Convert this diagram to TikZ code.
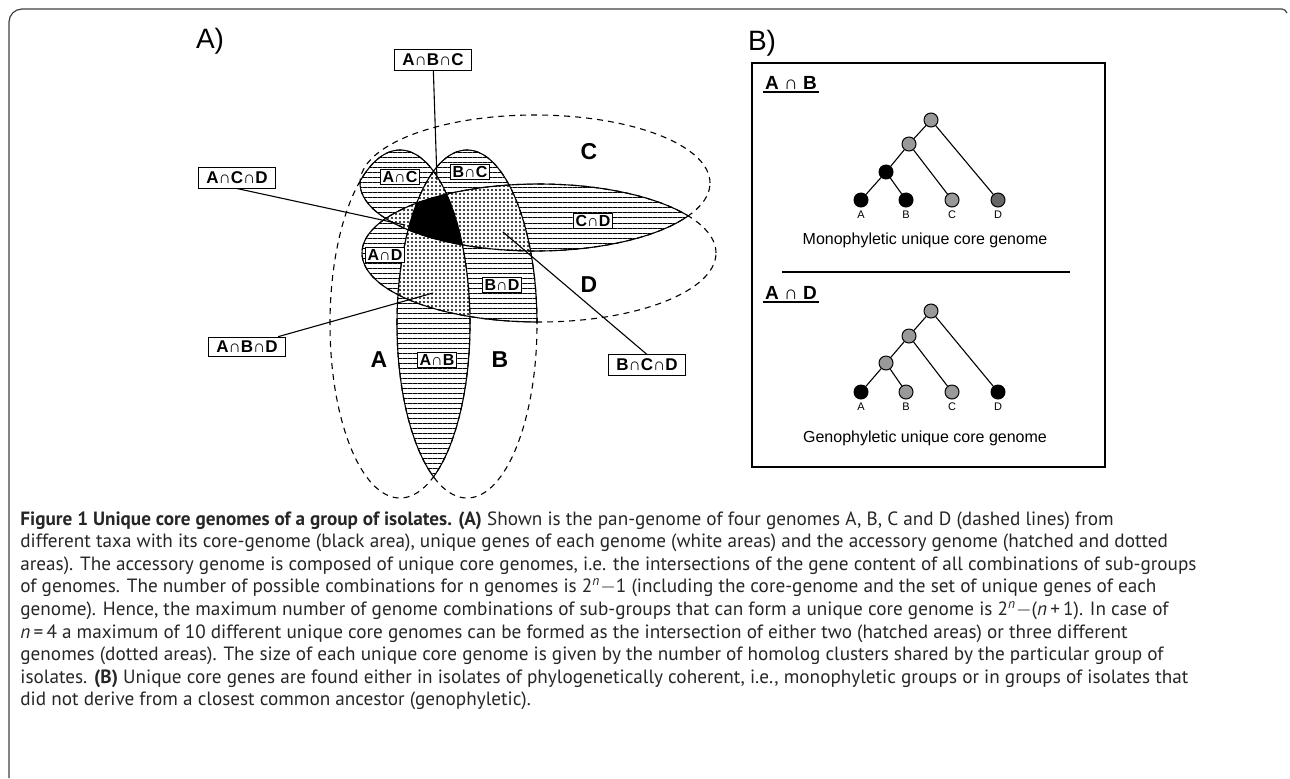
\documentclass[tikz,border=0pt]{standalone}
\usepackage{fontspec}
\setmainfont{Liberation Sans}
\newfontfamily\capfont{PT Sans}
\usetikzlibrary{positioning, patterns.meta}

% the four genomes as ellipses (units are pixels of the target)
\def\setA{(400,324) ellipse [x radius=35pt, y radius=87pt]}
\def\setB{(467,324) ellipse [x radius=35pt, y radius=87pt]}
\def\setC{(535,183) ellipse [x radius=87.5pt, y radius=34pt]}
\def\setD{(539,253) ellipse [x radius=88.5pt, y radius=34.5pt]}

\tikzset{
x=0.5pt, y=-0.5pt, % one unit is one pixel, y going down
hatch/.style={pattern={Lines[angle=0, distance=2.5pt, line width=0.5pt]}}, % two genomes
dotty/.style={pattern={Dots[distance=2pt, radius=0.55pt]}}, % three genomes
outline/.style={line width=0.55pt},
gapline/.style={outline, dash pattern=on 3pt off 2.5pt},
setlbl/.style={font=\bfseries\fontsize{11.5}{13}\selectfont},
boxlbl/.style={draw, fill=white, line width=0.5pt, inner xsep=4pt, inner ysep=2pt, font=\bfseries\fontsize{8.5}{9}\selectfont},
inlbl/.style={draw, fill=white, line width=0.45pt, inner xsep=1.2pt, inner ysep=0.8pt, font=\bfseries\fontsize{8}{8.5}\selectfont},
panel/.style={font=\fontsize{14}{16}\selectfont},
taxon/.style={circle, draw, line width=0.5pt, minimum size=7pt, inner sep=0pt},
taxlbl/.style={inner sep=0.5pt, font=\fontsize{5.5}{6}\selectfont},
branch/.style={line width=0.55pt},
grouphdr/.style={inner sep=1pt, font=\bfseries\fontsize{9.5}{11}\selectfont},
treetitle/.style={font=\fontsize{8}{9}\selectfont},
capline/.style={anchor=base west, inner sep=0pt, text=black!85, font=\capfont\fontsize{9.6}{11}\selectfont},
}

\begin{document}
\begin{tikzpicture}
\useasboundingbox (0,0) rectangle (1290,778);

% frame
\draw[line width=0.6pt, black!75] (9,778) -- (9,22) arc[start angle=180, end angle=90, radius=6.5pt] -- (1282,9) to[out=0, in=120] (1287,13);

\node[panel] (pa) at (210,41) {A)};
\node[panel] (pb) at (762,43) {B)};

% pairs
\begin{scope} \clip \setA; \fill[hatch] \setC; \end{scope}
\begin{scope} \clip \setB; \fill[hatch] \setC; \end{scope}
\begin{scope} \clip \setC; \fill[hatch] \setD; \end{scope}
\begin{scope} \clip \setA; \fill[hatch] \setD; \end{scope}
\begin{scope} \clip \setB; \fill[hatch] \setD; \end{scope}
\begin{scope} \clip \setA; \fill[hatch] \setB; \end{scope}

% triples
\begin{scope} \clip \setA; \clip \setB; \fill[white] \setC; \fill[dotty] \setC; \end{scope}
\begin{scope} \clip \setA; \clip \setC; \fill[white] \setD; \fill[dotty] \setD; \end{scope}
\begin{scope} \clip \setB; \clip \setC; \fill[white] \setD; \fill[dotty] \setD; \end{scope}
\begin{scope} \clip \setA; \clip \setB; \fill[white] \setD; \fill[dotty] \setD; \end{scope}

% core
\begin{scope} \clip \setA; \clip \setB; \clip \setC; \fill[black] \setD; \end{scope}

% outlines: dashed outside, solid inside the others
\draw[gapline] \setA \setB \setC \setD;
\begin{scope} \clip \setB \setC \setD; \draw[outline] \setA; \end{scope}
\begin{scope} \clip \setA \setC \setD; \draw[outline] \setB; \end{scope}
\begin{scope} \clip \setA \setB \setD; \draw[outline] \setC; \end{scope}
\begin{scope} \clip \setA \setB \setC; \draw[outline] \setD; \end{scope}

\node[setlbl] (gA) at (379,360) {A};
\node[setlbl] (gB) at (500,360) {B};
\node[setlbl] (gC) at (589,152) {C};
\node[setlbl] (gD) at (589,285) {D};

\node[inlbl] (lAC) at (400,177) {A∩C};
\node[inlbl] (lBC) at (470,172) {B∩C};
\node[inlbl] (lCD) at (593,221) {C∩D};
\node[inlbl] (lAD) at (385,255) {A∩D};
\node[inlbl] (lBD) at (502,285) {B∩D};
\node[inlbl] (lAB) at (437,360) {A∩B};

\coordinate (pABC) at (437,180);
\coordinate (pACD) at (405,225);
\coordinate (pBCD) at (503,232);
\coordinate (pABD) at (433,293);

\node[boxlbl] (lABC) at (433,60) {A∩B∩C};
\node[boxlbl] (lACD) at (237,178) {A∩C∩D};
\node[boxlbl] (lABD) at (247,347) {A∩B∩D};
\node[boxlbl] (lBCD) at (647,365) {B∩C∩D};

\draw[outline] (lABC) -- (pABC);
\draw[outline] (lACD.south) -- (pACD);
\draw[outline] ([xshift=-4pt]lABD.north east) -- (pABD);
\draw[outline] (lBCD.north) -- (pBCD);

% panel B
\draw[line width=0.6pt] (752,63) rectangle (1105,467);

\node[grouphdr] (hAB) at (791,83) {A ∩ B};
\draw[line width=0.7pt] (hAB.south west) -- (hAB.south east);

\node[taxon, fill=gray!80] (r1) at (931,120) {};
\node[taxon, fill=gray!80] (m1) at (909,144) {};
\node[taxon, fill=black] (n1) at (886,172) {};
\node[taxon, fill=black] (a1) at (861,200) {};
\node[taxon, fill=black] (b1) at (906,200) {};
\node[taxon, fill=gray!80] (c1) at (952,200) {};
\node[taxon, fill=black!60] (d1) at (998,200) {};
\draw[branch] (r1) -- (m1) (r1) -- (d1) (m1) -- (n1) (m1) -- (c1) (n1) -- (a1) (n1) -- (b1);
\node[taxlbl, below=1pt of a1] (ta1) {A};
\node[taxlbl, below=1pt of b1] (tb1) {B};
\node[taxlbl, below=1pt of c1] (tc1) {C};
\node[taxlbl, below=1pt of d1] (td1) {D};
\node[treetitle] (mono) at (925,240) {Monophyletic unique core genome};

\coordinate (sepl) at (782,272);
\coordinate (sepr) at (1070,272);
\draw[line width=0.6pt] (sepl) -- (sepr);

\node[grouphdr] (hAD) at (791,293) {A ∩ D};
\draw[line width=0.7pt] (hAD.south west) -- (hAD.south east);

\node[taxon, fill=gray!80] (r2) at (931,311) {};
\node[taxon, fill=gray!80] (m2) at (909,336) {};
\node[taxon, fill=gray!80] (n2) at (886,363) {};
\node[taxon, fill=black] (a2) at (861,392) {};
\node[taxon, fill=gray!80] (b2) at (906,392) {};
\node[taxon, fill=gray!80] (c2) at (952,392) {};
\node[taxon, fill=black] (d2) at (998,392) {};
\draw[branch] (r2) -- (m2) (r2) -- (d2) (m2) -- (n2) (m2) -- (c2) (n2) -- (a2) (n2) -- (b2);
\node[taxlbl, below=1pt of a2] (ta2) {A};
\node[taxlbl, below=1pt of b2] (tb2) {B};
\node[taxlbl, below=1pt of c2] (tc2) {C};
\node[taxlbl, below=1pt of d2] (td2) {D};
\node[treetitle] (geno) at (925,438) {Genophyletic unique core genome};

% caption
\node[capline] (cap1) at (20,525) {\textbf{Figure 1 Unique core genomes of a group of isolates. (A)} Shown is the pan-genome of four genomes A, B, C and D (dashed lines) from};
\node[capline] (cap2) at (20,547.6) {different taxa with its core-genome (black area), unique genes of each genome (white areas) and the accessory genome (hatched and dotted};
\node[capline] (cap3) at (20,570.2) {areas). The accessory genome is composed of unique core genomes, i.e. the intersections of the gene content of all combinations of sub-groups};
\node[capline] (cap4) at (20,592.8) {of genomes. The number of possible combinations for n genomes is 2\textsuperscript{\itshape n}$-$1 (including the core-genome and the set of unique genes of each};
\node[capline] (cap5) at (20,615.4) {genome). Hence, the maximum number of genome combinations of sub-groups that can form a unique core genome is 2\textsuperscript{\itshape n}$-$(\textit{n}\,+\,1). In case of};
\node[capline] (cap6) at (20,638) {\textit{n}\,=\,4 a maximum of 10 different unique core genomes can be formed as the intersection of either two (hatched areas) or three different};
\node[capline] (cap7) at (20,660.6) {genomes (dotted areas). The size of each unique core genome is given by the number of homolog clusters shared by the particular group of};
\node[capline] (cap8) at (20,683.2) {isolates. \textbf{(B)} Unique core genes are found either in isolates of phylogenetically coherent, i.e., monophyletic groups or in groups of isolates that};
\node[capline] (cap9) at (20,705.8) {did not derive from a closest common ancestor (genophyletic).};
\end{tikzpicture}
\end{document}
